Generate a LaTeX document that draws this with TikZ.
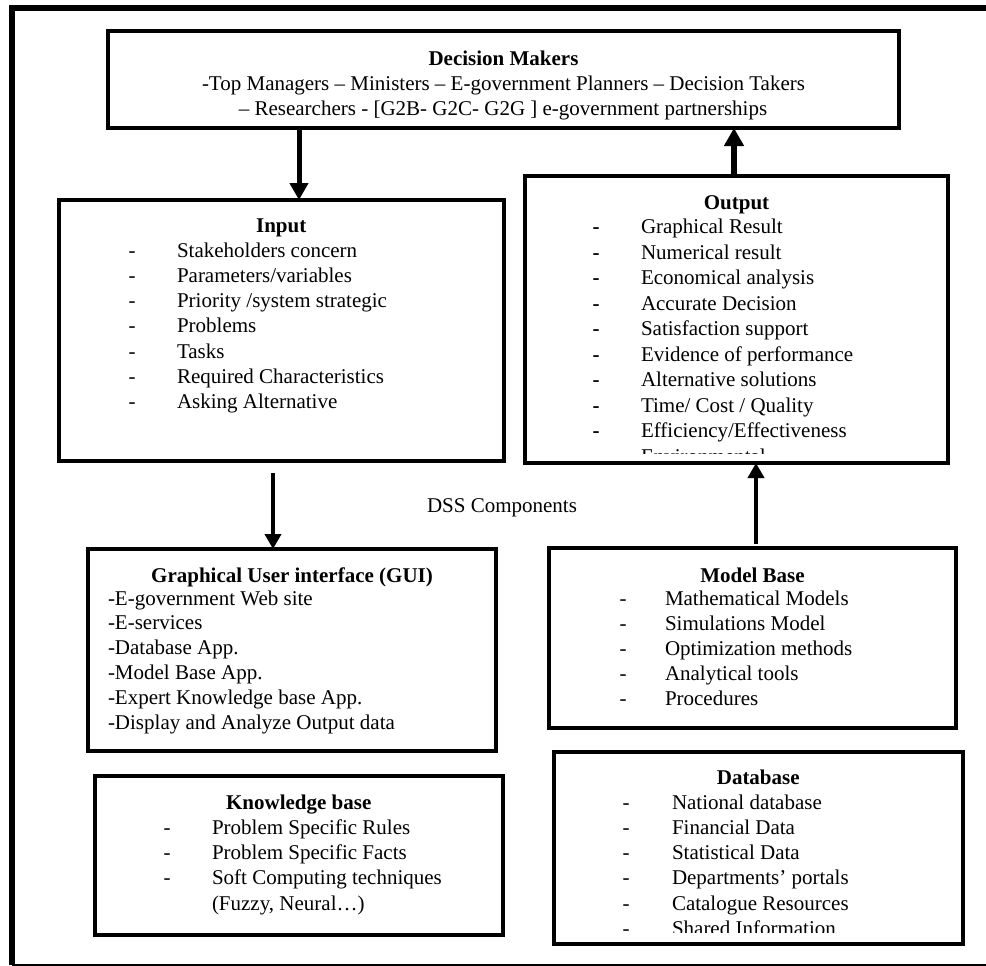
\documentclass[tikz,border=0pt]{standalone}
\usepackage{fontspec}
\setmainfont{Liberation Serif}
\usetikzlibrary{arrows.meta}
\tikzset{
  box/.style={draw, line width=4pt, inner sep=0pt, outer sep=0pt},
  txt/.style={inner sep=0pt, outer sep=0pt, font=\fontsize{21}{25}\selectfont},
  ttl/.style={txt, font=\fontsize{21}{25}\selectfont\bfseries, anchor=base},
  arrbig/.style={line width=6pt, -{Triangle[length=18pt,width=19pt]}},
  arrmid/.style={line width=5pt, -{Triangle[length=17pt,width=18pt]}},
  arrsm/.style={line width=4.5pt, -{Triangle[length=15pt,width=16pt]}},
}
\begin{document}
\begin{tikzpicture}[x=1pt,y=-1pt]
\useasboundingbox (0,0) rectangle (986,966);
% outer frame
\draw[line width=6pt] (11.5,965) -- (11.5,8) -- (990,8);
\draw[line width=2pt] (11.5,964.5) -- (990,964.5);

% boxes
\node[box, minimum width=791pt, minimum height=97pt] (dm) at (503.5,79.5) {};
\node[box, minimum width=444.5pt, minimum height=261pt] (input) at (281.25,330.5) {};
\node[box, minimum width=423pt, minimum height=287pt] (output) at (736.5,319.5) {};
\node[box, minimum width=408pt, minimum height=202pt] (gui) at (292,650) {};
\node[box, minimum width=407pt, minimum height=180pt] (mb) at (752.5,638) {};
\node[box, minimum width=408.5pt, minimum height=159pt] (kb) at (298.75,855.5) {};
\node[box, minimum width=408.5pt, minimum height=192pt] (db) at (758.25,848) {};

% Decision makers text
\node[ttl] (dm-t) at (503.5,66) {Decision Makers};
\node[txt, anchor=base] (dm-l1) at (503.5,91) {-Top Managers – Ministers – E-government Planners – Decision Takers};
\node[txt, anchor=base] (dm-l2) at (503,115.5) {– Researchers - [G2B- G2C- G2G ] e-government partnerships};

% Input text
\node[ttl] (in-t) at (281.25,232) {Input};
\foreach \t [count=\i] in {Stakeholders concern, Parameters/variables, Priority /system strategic, Problems, Tasks, Required Characteristics, Asking Alternative}{
  \node[txt, anchor=base] (in-d\i) at (132,{257+25.3*(\i-1)}) {-};
  \node[txt, anchor=base west] (in-i\i) at (177,{257+25.3*(\i-1)}) {\t};
}

% Output text (clipped)
\node[ttl] (out-t) at (736.5,209) {Output};
\begin{scope}
\clip (525,176) rectangle (948,453);
\foreach \t [count=\i] in {Graphical Result, Numerical result, Economical analysis, Accurate Decision, Satisfaction support, Evidence of performance, Alternative solutions, Time/ Cost / Quality, Efficiency/Effectiveness, Environmental}{
  \node[txt, anchor=base, font=\fontsize{21}{25}\selectfont\bfseries] (out-d\i) at (596,{233.5+25.5*(\i-1)}) {-};
  \node[txt, anchor=base west] (out-i\i) at (641,{233.5+25.5*(\i-1)}) {\t};
}
\end{scope}

% DSS components label
\node[txt, anchor=base west] (dss) at (427,512) {DSS Components};

% GUI text
\node[ttl] (gui-t) at (292,582) {Graphical User interface (GUI)};
\foreach \t [count=\i] in {-E-government Web site, -E-services, -Database App., -Model Base App., -Expert Knowledge base App., -Display and Analyze Output data}{
  \node[txt, anchor=base west] (gui-i\i) at (108,{605+24.8*(\i-1)}) {\t};
}

% Model base text
\node[ttl] (mb-t) at (752.5,582) {Model Base};
\foreach \t [count=\i] in {Mathematical Models, Simulations Model, Optimization methods, Analytical tools, Procedures}{
  \node[txt, anchor=base] (mb-d\i) at (623,{605+25*(\i-1)}) {-};
  \node[txt, anchor=base west] (mb-i\i) at (665,{605+25*(\i-1)}) {\t};
}

% Knowledge base text
\node[ttl] (kb-t) at (298.75,809) {Knowledge base};
\foreach \t [count=\i] in {Problem Specific Rules, Problem Specific Facts, Soft Computing techniques}{
  \node[txt, anchor=base] (kb-d\i) at (167,{834+25.3*(\i-1)}) {-};
  \node[txt, anchor=base west] (kb-i\i) at (212,{834+25.3*(\i-1)}) {\t};
}
\node[txt, anchor=base west] (kb-i4) at (212,910) {(Fuzzy, Neural…)};

% Database text (clipped)
\node[ttl] (db-t) at (758.25,784) {Database};
\begin{scope}
\clip (554,752) rectangle (962.5,932);
\foreach \t [count=\i] in {National database, Financial Data, Statistical Data, Departments’ portals, Catalogue Resources, Shared Information}{
  \node[txt, anchor=base] (db-d\i) at (626,{809+25.3*(\i-1)}) {-};
  \node[txt, anchor=base west] (db-i\i) at (672,{809+25.3*(\i-1)}) {\t};
}
\end{scope}

% connectors
\coordinate (c1) at (299,0);
\coordinate (c2) at (734,0);
\coordinate (c3) at (273,473);
\coordinate (c4) at (756,544);
\draw[arrmid] (dm.south -| c1) -- (input.north -| c1);
\draw[arrbig] (output.north -| c2) -- (dm.south -| c2);
\draw[arrsm] (c3) -- (gui.north -| c3);
\draw[arrsm] (c4) -- (output.south -| c4);
\end{tikzpicture}
\end{document}
